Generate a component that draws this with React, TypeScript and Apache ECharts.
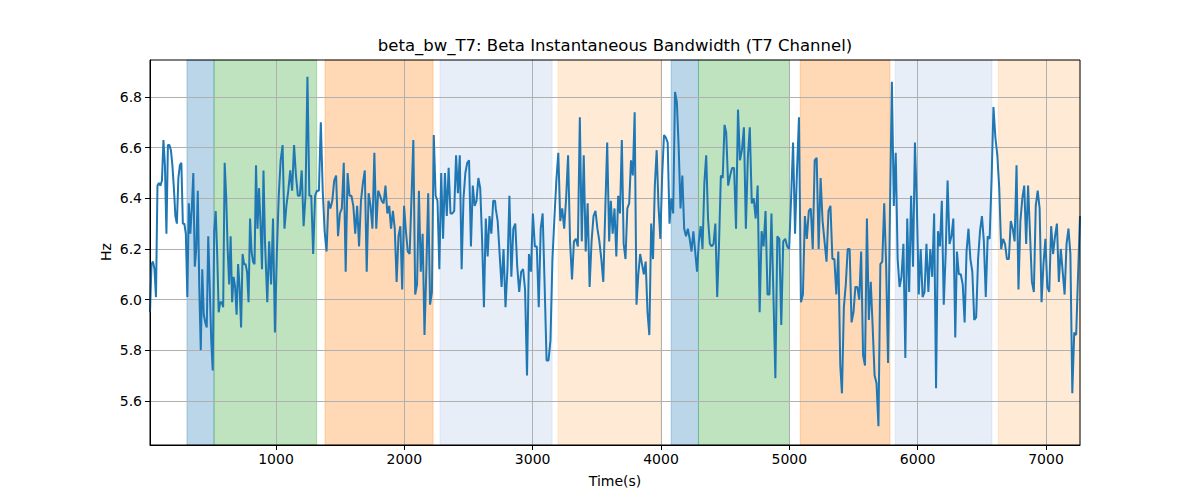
import React, { useEffect, useRef } from "react";
import * as echarts from "echarts";

// Beta instantaneous bandwidth (Hz)
const seg1 = [5.95, 6.14, 6.15, 6.12, 6.01, 6.45, 6.46, 6.45, 6.47, 6.63, 6.53, 6.26, 6.61, 6.61, 6.59, 6.53, 6.44, 6.33, 6.30, 6.48, 6.53, 6.54, 6.30, 6.30, 6.26, 6.01, 6.38, 6.26, 6.36, 6.50, 6.13, 6.20, 6.43, 6.05, 5.80, 6.12, 5.94, 5.91, 5.89, 6.25, 6.05, 5.84, 5.72, 6.27, 6.35, 6.18, 5.95, 5.99, 5.99, 5.97, 6.54, 6.41, 6.20, 6.06, 6.25, 5.99, 6.09, 6.05, 5.94, 6.14, 6.05, 5.89, 6.18, 6.14, 6.14, 6.11, 5.99, 6.32, 6.19, 6.15, 6.14, 6.53, 6.28, 6.44, 6.30, 6.12, 6.51, 6.23];
const seg2 = [6.23, 5.99, 6.23, 6.06, 6.32, 5.87, 6.18, 6.41, 6.55, 6.61, 6.28, 6.37, 6.43, 6.51, 6.43, 6.61, 6.49, 6.41, 6.41, 6.51, 6.29, 6.41, 6.88, 6.41, 6.41, 6.18, 6.41, 6.43, 6.43, 6.70, 6.43, 6.27, 6.19, 6.39, 6.36, 6.39, 6.47, 6.49, 6.25, 6.34, 6.36, 6.54, 6.11, 6.50, 6.41, 6.41, 6.37, 6.26, 6.37, 6.21, 6.39, 6.46, 6.51, 6.11, 6.42, 6.37, 6.28, 6.58, 6.28, 6.43, 6.41];
const seg3 = [6.39, 6.38, 6.45, 6.34, 6.37, 6.28, 6.35, 6.28, 6.07, 6.25, 6.29, 6.04, 6.37, 6.27, 6.19, 6.18, 6.40, 6.63, 6.02, 6.06, 6.43, 6.11, 6.26, 5.86, 6.12, 6.42, 5.98, 6.03, 6.65, 6.41, 6.39, 6.12, 6.50, 6.24, 6.50, 6.33, 6.52, 6.34, 6.34, 6.35, 6.57, 6.42, 6.57, 6.12, 6.40, 6.50, 6.54, 6.55, 6.21, 6.45, 6.37, 6.39, 6.48, 6.44, 6.24, 5.97, 6.32, 6.17, 6.33, 6.26, 6.39, 6.39];
const seg4 = [6.36, 6.31, 6.18, 6.05, 6.20, 5.97, 6.12, 6.41, 6.09, 6.28, 6.30, 6.13, 6.03, 6.11, 6.12, 6.04, 5.70, 6.18, 6.11, 6.34, 6.21, 6.21, 5.97, 6.28, 6.34, 6.06, 5.76, 5.76, 5.84, 6.16, 6.32, 6.47, 6.58, 6.31, 6.36, 6.28, 6.40, 6.57, 6.23, 6.08, 6.23, 6.24, 6.21, 6.72, 6.23, 6.57, 6.19, 6.38, 6.05, 6.23, 6.33, 6.35, 6.28, 6.23, 6.16, 6.07, 6.35, 6.62, 6.23];
const seg5 = [6.39, 6.26, 6.36, 6.17, 6.41, 6.34, 6.63, 6.22, 6.16, 6.36, 6.38, 6.55, 6.49, 6.74, 5.98, 6.10, 6.18, 6.14, 6.10, 6.15, 5.95, 5.86, 6.30, 6.16, 6.45, 6.59, 6.37, 6.24, 6.49, 6.65, 6.64, 6.62, 6.30, 6.40, 6.34, 6.82, 6.78, 6.60, 6.36, 6.49, 6.28, 6.25, 6.28, 6.24, 6.19, 6.27, 6.19, 6.11, 6.23, 6.29, 6.20, 6.46, 6.57, 6.32, 6.22, 6.21, 6.22, 6.30, 6.01, 6.22, 6.49, 6.48, 6.69];
const seg6 = [6.66, 6.45, 6.49, 6.52, 6.52, 6.28, 6.75, 6.55, 6.59, 6.68, 6.28, 6.56, 6.68, 6.38, 6.40, 6.32, 6.45, 5.95, 6.27, 6.21, 6.35, 6.02, 6.02, 6.34, 6.02, 5.69, 6.25, 6.24, 5.90, 6.23, 6.24, 6.21, 6.20, 6.40, 6.62, 6.26, 6.51, 6.72, 5.99, 6.02, 6.33, 6.24, 6.35, 6.36, 6.20, 6.55, 6.56, 6.20, 6.48, 6.31, 6.23, 6.15, 6.35, 6.37, 6.16, 6.16, 6.02, 6.19, 5.74];
const seg7 = [5.63, 5.97, 6.06, 6.20, 6.20, 5.91, 5.95, 6.05, 6.05, 6.00, 6.19, 5.78, 5.74, 6.32, 5.92, 6.07, 5.89, 5.70, 5.67, 5.50, 6.14, 6.15, 6.38, 6.14, 5.75, 6.35, 6.86, 6.37, 6.58, 6.16, 6.05, 6.09, 6.22, 5.77, 6.32, 6.03, 6.41, 6.13, 6.62, 6.37, 6.02, 6.20, 6.01, 6.03, 6.22, 6.03, 6.20, 6.09, 6.34, 5.65, 6.27, 6.21, 6.39, 5.98, 6.18, 6.47, 6.22, 6.25, 6.32, 5.85];
const seg8 = [6.19, 6.10, 6.10, 6.06, 5.91, 6.19, 6.28, 6.16, 6.11, 5.92, 5.93, 6.16, 6.27, 6.33, 6.23, 6.01, 6.25, 6.24, 6.47, 6.76, 6.64, 6.57, 6.44, 6.20, 6.24, 6.22, 6.16, 6.16, 6.31, 6.28, 6.23, 6.53, 6.04, 6.31, 6.40, 6.45, 6.22, 6.45, 6.26, 6.07, 6.03, 6.37, 6.43, 6.36, 5.99, 6.14, 6.24, 6.05, 6.03, 6.29, 6.18, 6.25, 6.30, 6.07, 6.20, 6.11, 6.02, 6.22, 6.28, 6.18, 5.63, 5.87, 5.86, 6.10, 6.33];

// time range (s) covered by each segment
const segStart = [18, 917, 1824, 2712, 3609, 4508, 5410, 6306];
const segEnd = [914, 1811, 2707, 3596, 4495, 5397, 6293, 7265];

// shaded phases (s)
const spanStarts = [306, 517, 1382, 2278, 3198, 4079, 4292, 5085, 5825, 6628];
const spanEnds = [517, 1317, 2224, 3151, 3999, 4292, 5001, 5784, 6579, 7265];
const spanKinds = [0, 1, 2, 3, 4, 0, 1, 2, 3, 4];
const spanColors = [
  "rgba(31,119,180,0.3)",
  "rgba(44,160,44,0.3)",
  "rgba(255,127,14,0.3)",
  "rgba(174,199,232,0.3)",
  "rgba(255,187,120,0.3)",
];

const xTicks = [1000, 2000, 3000, 4000, 5000, 6000, 7000];
const yTicks = [5.6, 5.8, 6.0, 6.2, 6.4, 6.6, 6.8];

const X_MIN = 18;
const X_MAX = 7265;
const Y_MIN = 5.426;
const Y_MAX = 6.946;

const FONT = "DejaVu Sans";

export default function App() {
  const ref = useRef<HTMLDivElement>(null);

  useEffect(() => {
    document.body.style.margin = "0";
    if (!ref.current) return;
    const chart = echarts.init(ref.current, null, { renderer: "svg" });

    const segments = [seg1, seg2, seg3, seg4, seg5, seg6, seg7, seg8];
    const lineData: number[][] = [];
    segments.forEach((vals, k) => {
      const n = vals.length;
      for (let i = 0; i < n; i++) {
        const t = segStart[k] + ((segEnd[k] - segStart[k]) * i) / (n - 1);
        lineData.push([t, vals[i]]);
      }
    });

    const spanData = spanStarts.map((s, i) => [s, spanEnds[i], spanKinds[i]]);

    chart.setOption({
      animation: false,
      grid: {
        left: 150,
        right: 120,
        top: 60,
        bottom: 55,
        show: true,
        borderColor: "#000",
        borderWidth: 1,
        backgroundColor: "transparent",
        z: 10,
      },
      xAxis: {
        type: "value",
        min: X_MIN,
        max: X_MAX,
        z: 3,
        axisLine: { show: true, lineStyle: { color: "#000", width: 1 } },
        axisTick: {
          show: true,
          inside: false,
          length: 5,
          customValues: xTicks,
          lineStyle: { color: "#000", width: 1 },
        },
        axisLabel: {
          customValues: xTicks,
          color: "#000",
          fontSize: 14,
          fontFamily: FONT,
          margin: 7,
          formatter: (v: number) => String(Math.round(v)),
        },
        splitLine: { show: true, lineStyle: { color: "#b0b0b0", width: 1 } },
      },
      yAxis: {
        type: "value",
        min: Y_MIN,
        max: Y_MAX,
        z: 3,
        axisLine: { show: true, lineStyle: { color: "#000", width: 1 } },
        axisTick: {
          show: true,
          inside: false,
          length: 5,
          customValues: yTicks,
          lineStyle: { color: "#000", width: 1 },
        },
        axisLabel: {
          customValues: yTicks,
          color: "#000",
          fontSize: 14,
          fontFamily: FONT,
          margin: 8,
          formatter: (v: number) => v.toFixed(1),
        },
        splitLine: { show: true, lineStyle: { color: "#b0b0b0", width: 1 } },
      },
      graphic: [
        {
          type: "text",
          x: 615,
          y: 45,
          style: {
            text: "beta_bw_T7: Beta Instantaneous Bandwidth (T7 Channel)",
            fontSize: 16.5,
            fontFamily: FONT,
            fill: "#000",
            align: "center",
            verticalAlign: "middle",
          },
        },
        {
          type: "text",
          x: 615,
          y: 481,
          style: {
            text: "Time(s)",
            fontSize: 14,
            fontFamily: FONT,
            fill: "#000",
            align: "center",
            verticalAlign: "middle",
          },
        },
        {
          type: "text",
          x: 106,
          y: 252,
          rotation: Math.PI / 2,
          style: {
            text: "Hz",
            fontSize: 14,
            fontFamily: FONT,
            fill: "#000",
            align: "center",
            verticalAlign: "middle",
          },
        },
      ],
      series: [
        {
          type: "custom",
          z: 1,
          silent: true,
          encode: { x: [0, 1] },
          data: spanData,
          renderItem: (params: any, api: any) => {
            const x0 = api.coord([api.value(0), Y_MIN])[0];
            const x1 = api.coord([api.value(1), Y_MIN])[0];
            const cs = params.coordSys;
            const c = spanColors[api.value(2)];
            return {
              type: "rect",
              shape: { x: x0, y: cs.y, width: x1 - x0, height: cs.height },
              style: { fill: c, stroke: c, lineWidth: 1 },
            };
          },
        },
        {
          type: "line",
          z: 5,
          data: lineData,
          showSymbol: false,
          symbol: "none",
          lineStyle: { color: "#1f77b4", width: 2 },
          itemStyle: { color: "#1f77b4" },
        },
      ],
    });

    return () => {
      chart.dispose();
    };
  }, []);

  return <div ref={ref} style={{ width: 1200, height: 500 }} />;
}
